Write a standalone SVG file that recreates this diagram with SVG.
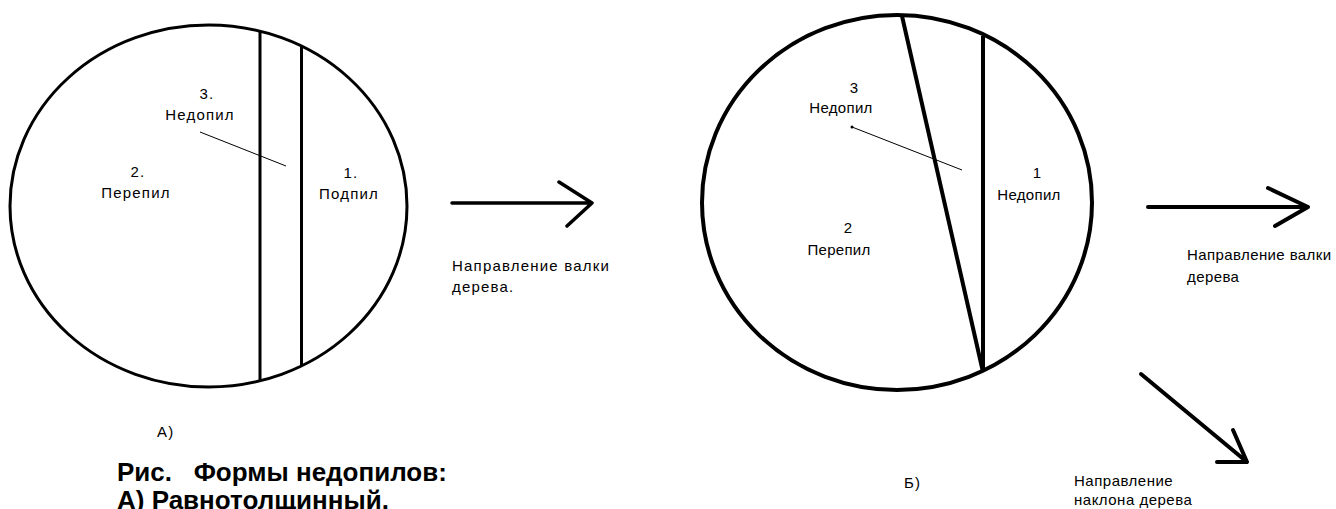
<svg xmlns="http://www.w3.org/2000/svg" width="1336" height="509" viewBox="0 0 1336 509">
<style>
.lbl{font-family:"Liberation Sans",Arial,sans-serif;font-size:15px;letter-spacing:1.2px;fill:#000}
.nar{letter-spacing:0.3px}
.c{text-anchor:middle}
.cap{font-family:"Liberation Sans",Arial,sans-serif;font-size:26px;font-weight:bold;fill:#000}
.outline{fill:none;stroke:#000;stroke-width:3}
.cut{stroke:#000;stroke-width:3;fill:none}
.thin{stroke:#000;stroke-width:1;fill:none}
.arr{stroke:#000;stroke-width:3.5;fill:none;stroke-linecap:round;stroke-linejoin:round}
</style>
<rect width="1336" height="509" fill="#fff"/>
<g id="diagramA">
  <ellipse class="outline" cx="208.5" cy="206" rx="198.5" ry="181"/>
  <line class="cut" x1="260" y1="31" x2="260" y2="381"/>
  <line class="cut" x1="301.5" y1="46" x2="301.5" y2="366"/>
</g>
<g id="labelA3">
  <text class="lbl c" x="207" y="99">3.</text>
  <text class="lbl c" x="200" y="120">Недопил</text>
</g>
<g id="labelA2">
  <text class="lbl c" x="138" y="177">2.</text>
  <text class="lbl c" x="136" y="198">Перепил</text>
</g>
<g id="labelA1">
  <text class="lbl c" x="351" y="178">1.</text>
  <text class="lbl c" x="349" y="199">Подпил</text>
</g>
<g id="diagramB">
  <ellipse class="outline" style="stroke-width:4" cx="897" cy="202.5" rx="195" ry="187.5"/>
  <line class="cut" style="stroke-width:4" x1="902" y1="16" x2="983" y2="372"/>
  <line class="cut" style="stroke-width:4" x1="983" y1="36" x2="983" y2="372"/>
</g>
<g id="labelB3">
  <text class="lbl nar c" x="854" y="93">3</text>
  <text class="lbl nar c" x="841" y="113">Недопил</text>
</g>
<g id="labelB1">
  <text class="lbl nar c" x="1037" y="178">1</text>
  <text class="lbl nar c" x="1029" y="200">Недопил</text>
</g>
<g id="labelB2">
  <text class="lbl nar c" x="848" y="233">2</text>
  <text class="lbl nar c" x="839" y="255">Перепил</text>
</g>
<g id="connectors">
  <line class="thin" x1="200" y1="132" x2="286" y2="166"/>
  <line class="thin" x1="852" y1="127" x2="962" y2="170"/>
  <circle cx="852" cy="127" r="1.5" fill="#000"/>
  <path class="arr" d="M452 203H592M559 182L592 203L567 226"/>
  <path class="arr" style="stroke-width:4" d="M1148 207H1308M1268 188L1308 207L1275 226"/>
  <path class="arr" style="stroke-width:4" d="M1141 374L1247 462M1233 430L1247 462L1217 462"/>
</g>
<g id="textArrowA">
  <text class="lbl" x="452" y="271">Направление валки</text>
  <text class="lbl" x="452" y="292">дерева.</text>
</g>
<g id="textArrowB">
  <text class="lbl" style="letter-spacing:0.4px" x="1187" y="260">Направление валки</text>
  <text class="lbl" style="letter-spacing:0.4px" x="1187" y="282">дерева</text>
</g>
<g id="textArrowC">
  <text class="lbl" style="letter-spacing:0.5px" x="1074" y="486">Направление</text>
  <text class="lbl" style="letter-spacing:0.5px" x="1074" y="505">наклона дерева</text>
</g>
<g id="captions">
  <text class="lbl" x="157" y="437">А)</text>
  <text class="lbl" x="904" y="488">Б)</text>
  <text class="cap" x="117" y="481" xml:space="preserve">Рис.   Формы недопилов:</text>
  <text class="cap" x="117" y="509">А) Равнотолщинный.</text>
</g>
</svg>
